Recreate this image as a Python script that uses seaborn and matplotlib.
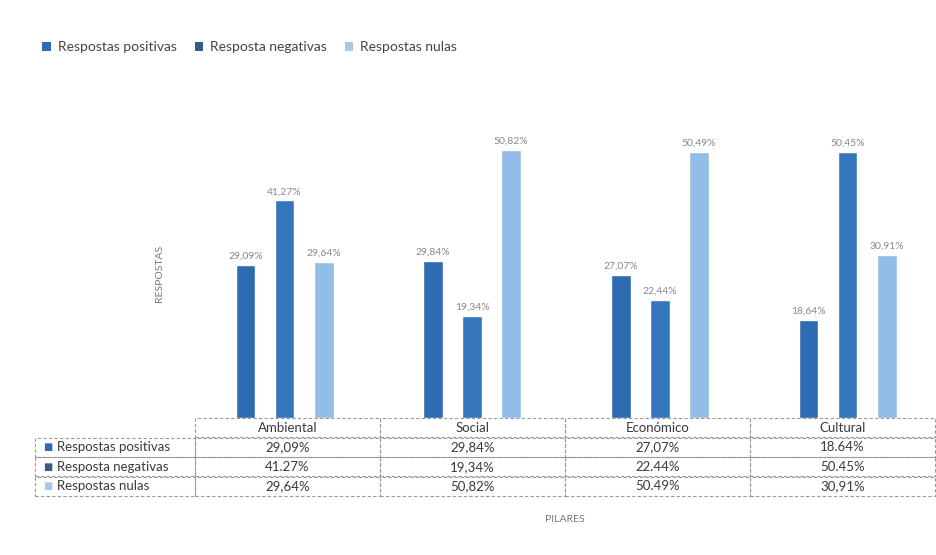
import numpy as np
import pandas as pd
import matplotlib
matplotlib.use("Agg")
import matplotlib.pyplot as plt
from matplotlib.patches import Patch
from matplotlib.table import Table
import seaborn as sns

# ---- data ----
pilares = ["Ambiental", "Social", "Económico", "Cultural"]
series = ["Respostas positivas", "Resposta negativas", "Respostas nulas"]
positivas = [29.09, 29.84, 27.07, 18.64]
negativas = [41.27, 19.34, 22.44, 50.45]
nulas = [29.64, 50.82, 50.49, 30.91]
table_rows = [
    ["29,09%", "29,84%", "27,07%", "18.64%"],
    ["41.27%", "19,34%", "22.44%", "50.45%"],
    ["29,64%", "50,82%", "50.49%", "30,91%"],
]
colors = ["#2E6BB0", "#3476BC", "#92BDE6"]
legend_colors = ["#2E6BB0", "#3A5C80", "#A9C7E6"]

df = pd.DataFrame({
    "Pilar": pilares * 3,
    "Serie": [s for s in series for _ in pilares],
    "Valor": positivas + negativas + nulas,
})

sns.set_theme(style="white")
plt.rcParams["font.family"] = ["Lato", "DejaVu Sans"]

fig = plt.figure(figsize=(9.36, 5.55), dpi=100)
fig.patch.set_facecolor("white")
ax = fig.add_axes([195 / 936, 1 - 418 / 555, 740 / 936, 290 / 555])

sns.barplot(data=df, x="Pilar", y="Valor", hue="Serie", order=pilares,
            hue_order=series, palette=colors, width=0.624, gap=0.49,
            saturation=1, ax=ax, legend=False)

for cont in ax.containers:
    ax.bar_label(cont, labels=[f"{v:.2f}%".replace(".", ",") for v in cont.datavalues],
                 padding=3, fontsize=7.5, color="#888888")

ax.set_xlim(-0.477, 3.466)
ax.set_ylim(0, 55)
ax.set_xticks([])
ax.set_yticks([])
ax.set_xlabel("")
ax.set_ylabel("RESPOSTAS", fontsize=7.5, color="#777777", labelpad=22)
for s in ax.spines.values():
    s.set_visible(False)

# ---- data table below (in axes-fraction coordinates) ----
lab_w = 160 / 740
tab_h = 78 / 290
tbl = Table(ax, bbox=[-lab_w, -tab_h, 1 + lab_w, tab_h])
tbl.set_transform(ax.transAxes)
widths = [160] + [185] * 4
tot = sum(widths)
widths = [w / tot for w in widths]
rh = 1 / 4
header = [""] + pilares
for c in range(5):
    cell = tbl.add_cell(0, c, widths[c], rh, text=header[c], loc="center")
    if c == 0:
        cell.visible_edges = ""
for r in range(3):
    cell = tbl.add_cell(r + 1, 0, widths[0], rh, text="     " + series[r], loc="left")
    cell.PAD = 0.03
    for c in range(4):
        tbl.add_cell(r + 1, c + 1, widths[c + 1], rh, text=table_rows[r][c], loc="center")
tbl.auto_set_font_size(False)
tbl.set_fontsize(9.5)
for (r, c), cell in tbl.get_celld().items():
    cell.set_edgecolor("#999999")
    cell.set_linewidth(0.8)
    cell.set_linestyle((0, (3, 2)))
    cell.set_facecolor("none")
    cell.get_text().set_color("#3a3a3a")
ax.add_table(tbl)

# colored squares in row labels
for r in range(3):
    ax.text(-lab_w + 0.011, -(r + 1.5) * tab_h / 4, "■", transform=ax.transAxes,
            color=legend_colors[r], fontsize=7, ha="left", va="center",
            family="DejaVu Sans")

fig.text(565 / 936, 1 - 519 / 555, "PILARES", fontsize=7.5, color="#777777",
         ha="center", va="center")

handles = [Patch(facecolor=c, edgecolor="none") for c in legend_colors]
fig.legend(handles, series, loc="upper left", bbox_to_anchor=(0.032, 0.948),
           ncol=3, frameon=False, fontsize=10, handlelength=0.6, handleheight=0.6,
           handletextpad=0.5, columnspacing=1.3, labelcolor="#444444")

fig.savefig("out.png", dpi=100, facecolor="white")
